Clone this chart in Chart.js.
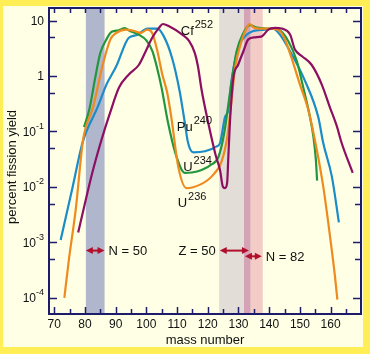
<!DOCTYPE html>
<html>
<head>
<meta charset="utf-8">
<script src="https://cdn.jsdelivr.net/npm/chart.js@4/dist/chart.umd.min.js"></script>
<style>
  html, body { margin: 0; padding: 0; background: #ffffff; }
  canvas { display: block; }
</style>
</head>
<body>
<canvas id="myChart" width="370" height="354"></canvas>
<script>
 // fission yield curves (mass number, percent yield)
 const massU234 = [79.7, 81.5, 83.3, 85.0, 87.0, 88.7, 91.0, 93.0, 94.5, 97.5, 100.0, 102.0, 103.5, 105.0, 107.0, 109.5, 112.5, 116.5, 121.0, 123.5, 125.3, 127.5, 129.4, 131.6, 133.7, 136.0, 139.0, 143.0, 146.2, 149.0, 151.1, 153.3, 154.4, 155.2, 155.6];
 const yieldU234 = [0.12, 0.26, 0.9, 2.6, 4.6, 6.3, 6.7, 7.3, 6.6, 5.6, 4.4, 2.8, 1.4, 0.6, 0.15, 0.04, 0.018, 0.019, 0.025, 0.035, 0.09, 0.63, 2.8, 6.0, 8.3, 7.5, 7.2, 6.9, 4.3, 1.86, 0.62, 0.18, 0.081, 0.031, 0.013];

 const massU236 = [73.3, 74.8, 77.0, 79.4, 82.7, 85.8, 88.3, 90.0, 93.3, 96.0, 98.2, 100.3, 101.9, 103.6, 105.2, 106.8, 108.2, 110.4, 113.1, 117.5, 121.3, 124.5, 126.2, 127.2, 128.1, 128.9, 131.0, 132.7, 133.7, 134.8, 136.4, 140.8, 143.3, 145.1, 147.3, 150.0, 152.7, 155.5, 157.6, 159.8, 161.4, 162.2];
 const yieldU236 = [0.0001, 0.0005, 0.0039, 0.071, 0.28, 1.6, 4.6, 5.9, 6.9, 6.5, 6.0, 6.9, 6.0, 2.8, 1.07, 0.5, 0.17, 0.023, 0.0095, 0.011, 0.0155, 0.029, 0.071, 0.19, 0.56, 1.4, 4.3, 7.4, 8.7, 7.6, 7.2, 7.2, 6.6, 4.6, 2.1, 0.71, 0.25, 0.047, 0.0102, 0.0013, 0.00025, 0.000093];

 const massPu240 = [72.1, 76.0, 79.3, 84.2, 87.0, 90.2, 94.3, 97.0, 100.3, 103.6, 105.7, 108.4, 110.8, 112.4, 113.6, 115.3, 119.1, 122.9, 124.0, 125.6, 126.7, 127.7, 129.9, 132.7, 134.8, 138.6, 141.3, 143.5, 147.3, 151.7, 156.0, 157.6, 160.4, 162.7];
 const yieldPu240 = [0.0011, 0.01, 0.065, 0.28, 0.7, 1.5, 4.9, 5.5, 7.2, 7.2, 5.2, 2.1, 0.55, 0.16, 0.062, 0.042, 0.044, 0.054, 0.062, 0.18, 0.245, 0.8, 3.2, 5.6, 6.5, 6.9, 7.2, 5.6, 2.5, 0.81, 0.18, 0.062, 0.0155, 0.0023];

 const massCf252 = [77.8, 82.4, 85.4, 88.1, 91.1, 94.3, 97.6, 99.8, 101.9, 104.1, 105.4, 107.4, 111.7, 113.9, 115.8, 116.8, 118.0, 120.2, 122.6, 124.0, 124.9, 125.6, 126.3, 126.7, 127.2, 128.3, 129.9, 131.6, 133.2, 135.4, 137.6, 139.7, 141.9, 144.1, 146.8, 148.4, 150.6, 153.8, 157.1, 159.8, 162.0, 163.6, 167.2];
 const yieldCf252 = [0.0015, 0.018, 0.071, 0.21, 0.62, 1.07, 1.6, 2.8, 4.9, 7.4, 8.7, 7.9, 5.6, 4.3, 2.6, 1.5, 0.56, 0.14, 0.037, 0.02, 0.0102, 0.0095, 0.0117, 0.035, 0.14, 0.9, 1.6, 2.8, 4.6, 5.0, 5.2, 6.9, 7.4, 7.2, 5.6, 3.0, 2.3, 1.6, 0.71, 0.27, 0.126, 0.062, 0.018];

 // curve labels
 const labelName = ['Cf', 'Pu', 'U', 'U'];
 const labelSup = ['252', '240', '234', '236'];
 const labelMass = [111.2, 109.9, 112.0, 110.2];
 const labelYield = [5.4, 0.1, 0.019, 0.0044];

 // magic number shells
 const bandFrom = [80.3, 123.7, 131.8, 134.0];
 const bandTo = [86.4, 131.8, 134.0, 137.9];
 const bandColor = ['#b0b6cc', '#e2ddd6', '#d4a3b6', '#f3ccc6'];

 const arrowName = ['N = 50', 'Z = 50', 'N = 82'];
 const arrowFrom = [80.3, 123.9, 132.1];
 const arrowTo = [86.4, 133.4, 137.6];
 const arrowYield = [0.00071, 0.00071, 0.00056];
 const arrowSide = ['right', 'left', 'right'];

 // ticks
 const xTickValues = [70, 75, 80, 85, 90, 95, 100, 105, 110, 115, 120, 125, 130, 135, 140, 145, 150, 155, 160, 165];
 const xTickLabels = [70, 80, 90, 100, 110, 120, 130, 140, 150, 160];
 const yTickValues = [10, 1, 0.1, 0.01, 0.001, 0.0001];
 const yTickBase = ['10', '1', '10', '10', '10', '10'];
 const yTickExp = ['', '', '-1', '-2', '-3', '-4'];
 const yMinorValues = [5, 0.5, 0.05, 0.005, 0.0005];

 const FONT = '"Liberation Sans", Arial, sans-serif';
 const AXIS = '#1c1c6a';

 function points(mass, yields) {
   return mass.map((m, i) => ({ x: m, y: yields[i] }));
 }

 function line(label, mass, yields, color) {
   return {
     label: label,
     data: points(mass, yields),
     borderColor: color,
     borderWidth: 2.2,
     pointRadius: 0,
     showLine: true,
     fill: false,
     cubicInterpolationMode: 'monotone'
   };
 }

 function drawArrow(ctx, x1, x2, yy) {
   ctx.beginPath();
   ctx.moveTo(x1 + 4, yy);
   ctx.lineTo(x2 - 4, yy);
   ctx.stroke();
   ctx.beginPath();
   ctx.moveTo(x1, yy);
   ctx.lineTo(x1 + 7, yy - 3.5);
   ctx.lineTo(x1 + 7, yy + 3.5);
   ctx.closePath();
   ctx.fill();
   ctx.beginPath();
   ctx.moveTo(x2, yy);
   ctx.lineTo(x2 - 7, yy - 3.5);
   ctx.lineTo(x2 - 7, yy + 3.5);
   ctx.closePath();
   ctx.fill();
 }

 const decor = {
   id: 'decor',
   beforeDraw(chart) {
     const { ctx, chartArea: a, scales: { x } } = chart;
     ctx.save();
     ctx.fillStyle = '#ffee55';
     ctx.fillRect(0, 0, chart.width, chart.height);
     ctx.fillStyle = '#ffffe6';
     ctx.fillRect(3, 6, 360, 341);
     for (let i = 0; i < bandFrom.length; i++) {
       const x1 = x.getPixelForValue(bandFrom[i]);
       const x2 = x.getPixelForValue(bandTo[i]);
       ctx.fillStyle = bandColor[i];
       ctx.fillRect(x1, a.top, x2 - x1, a.bottom - a.top);
     }
     ctx.restore();
   },
   afterDraw(chart) {
     const { ctx, chartArea: a, scales: { x, y } } = chart;
     ctx.save();

     // frame
     ctx.strokeStyle = AXIS;
     ctx.lineWidth = 2;
     ctx.strokeRect(a.left, a.top, a.right - a.left, a.bottom - a.top);

     // x ticks, top and bottom, pointing inwards
     ctx.lineWidth = 1.5;
     ctx.beginPath();
     xTickValues.forEach(v => {
       const px = Math.round(x.getPixelForValue(v)) + 0.5;
       const len = v % 10 === 0 ? 7 : 5;
       ctx.moveTo(px, a.bottom);
       ctx.lineTo(px, a.bottom - len);
       ctx.moveTo(px, a.top);
       ctx.lineTo(px, a.top + 5);
     });
     // y ticks, left and right
     yTickValues.forEach(v => {
       const py = Math.round(y.getPixelForValue(v)) + 0.5;
       ctx.moveTo(a.left, py); ctx.lineTo(a.left + 8, py);
       ctx.moveTo(a.right, py); ctx.lineTo(a.right - 8, py);
     });
     yMinorValues.forEach(v => {
       const py = Math.round(y.getPixelForValue(v)) + 0.5;
       ctx.moveTo(a.left, py); ctx.lineTo(a.left + 6, py);
       ctx.moveTo(a.right, py); ctx.lineTo(a.right - 6, py);
     });
     ctx.stroke();

     // tick labels
     ctx.fillStyle = '#111111';
     ctx.font = '12px ' + FONT;
     ctx.textAlign = 'center';
     ctx.textBaseline = 'middle';
     xTickLabels.forEach(v => {
       ctx.fillText(String(v), x.getPixelForValue(v), a.bottom + 11);
     });
     ctx.textAlign = 'left';
     yTickValues.forEach((v, i) => {
       const py = y.getPixelForValue(v);
       ctx.font = '9px ' + FONT;
       const we = yTickExp[i] ? ctx.measureText(yTickExp[i]).width : 0;
       ctx.font = '12px ' + FONT;
       const wb = ctx.measureText(yTickBase[i]).width;
       const right = a.left - 5;
       ctx.fillText(yTickBase[i], right - we - wb, py + 1);
       if (yTickExp[i]) {
         ctx.font = '9px ' + FONT;
         ctx.fillText(yTickExp[i], right - we, py - 5);
       }
     });

     // axis titles
     ctx.font = '13px ' + FONT;
     ctx.textAlign = 'center';
     ctx.fillText('mass number', (a.left + a.right) / 2, a.bottom + 26);
     ctx.save();
     ctx.translate(12, 167);
     ctx.rotate(-Math.PI / 2);
     ctx.fillText('percent fission yield', 0, 0);
     ctx.restore();

     // curve labels
     ctx.textAlign = 'left';
     ctx.textBaseline = 'alphabetic';
     labelName.forEach((name, i) => {
       const px = x.getPixelForValue(labelMass[i]);
       const py = y.getPixelForValue(labelYield[i]);
       ctx.font = '13px ' + FONT;
       ctx.fillText(name, px, py);
       const w = ctx.measureText(name).width;
       ctx.font = '11px ' + FONT;
       ctx.fillText(labelSup[i], px + w + 1, py - 7);
     });

     // shell arrows
     ctx.strokeStyle = '#b0102c';
     ctx.fillStyle = '#b0102c';
     ctx.lineWidth = 2;
     arrowName.forEach((name, i) => {
       const x1 = x.getPixelForValue(arrowFrom[i]);
       const x2 = x.getPixelForValue(arrowTo[i]);
       const py = y.getPixelForValue(arrowYield[i]);
       drawArrow(ctx, x1, x2, py);
     });
     ctx.fillStyle = '#111111';
     ctx.font = '13px ' + FONT;
     ctx.textBaseline = 'middle';
     arrowName.forEach((name, i) => {
       const py = y.getPixelForValue(arrowYield[i]);
       if (arrowSide[i] === 'right') {
         ctx.textAlign = 'left';
         ctx.fillText(name, x.getPixelForValue(arrowTo[i]) + 4, py + 1);
       } else {
         ctx.textAlign = 'right';
         ctx.fillText(name, x.getPixelForValue(arrowFrom[i]) - 4, py + 1);
       }
     });

     ctx.restore();
   }
 };

 const ctx = document.getElementById('myChart').getContext('2d');
 const myChart = new Chart(ctx, {
   type: 'scatter',
   data: {
     datasets: [
       line('Cf 252', massCf252, yieldCf252, '#8c0f62'),
       line('U 236', massU236, yieldU236, '#ee8a1e'),
       line('U 234', massU234, yieldU234, '#22963c'),
       line('Pu 240', massPu240, yieldPu240, '#1a8cc8')
     ]
   },
   options: {
     responsive: false,
     animation: false,
     layout: { padding: { left: 49, top: 8, right: 9, bottom: 40 } },
     plugins: { legend: { display: false }, tooltip: { enabled: false } },
     scales: {
       x: { type: 'linear', min: 68.3, max: 169.9, display: false },
       y: { type: 'logarithmic', min: 0.000051, max: 16.9, display: false }
     }
   },
   plugins: [decor]
 });
</script>
</body>
</html>
